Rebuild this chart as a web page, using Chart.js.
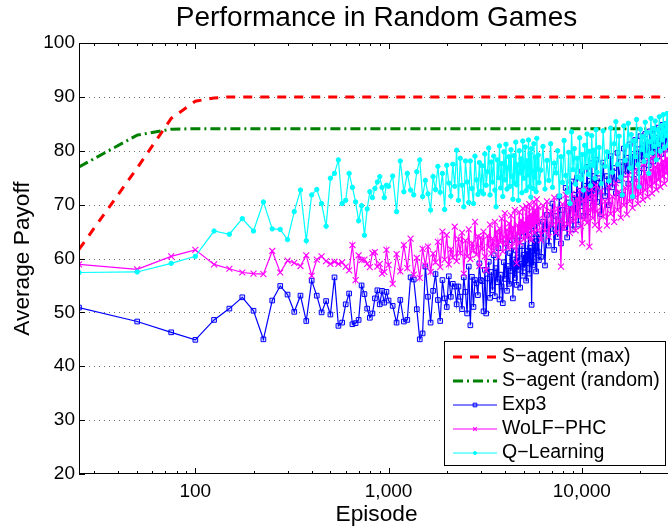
<!DOCTYPE html>
<html>
<head>
<meta charset="utf-8">
<title>Performance in Random Games</title>
<script src="https://cdn.jsdelivr.net/npm/chart.js@4.4.0/dist/chart.umd.min.js"></script>
<style>
  html, body { margin: 0; padding: 0; background: #fff; overflow: hidden; }
  #wrap { width: 668px; height: 527px; overflow: hidden; }
</style>
</head>
<body>
<div id="wrap"><canvas id="chart" width="680" height="527"></canvas></div>
<script>
// episode at which each average was recorded (shared by the three learners)
const episodes = [
  25, 50, 75, 100, 125, 150, 175, 200, 225, 250, 275, 300, 325, 350, 375, 400, 425, 450, 475, 500,
  525, 550, 575, 600, 625, 650, 675, 700, 725, 750, 775, 800, 825, 850, 875, 900, 925, 950, 975, 1000,
  1050, 1100, 1150, 1200, 1250, 1300, 1350, 1400, 1450, 1500, 1550, 1600, 1650, 1700, 1750, 1800, 1850, 1900, 1950, 2000,
  2050, 2100, 2150, 2200, 2250, 2300, 2350, 2400, 2450, 2500, 2550, 2600, 2650, 2700, 2750, 2800, 2850, 2900, 2950, 3000,
  3050, 3100, 3150, 3200, 3250, 3300, 3350, 3400, 3450, 3500, 3550, 3600, 3650, 3700, 3750, 3800, 3850, 3900, 3950, 4000,
  4050, 4100, 4150, 4200, 4250, 4300, 4350, 4400, 4450, 4500, 4550, 4600, 4650, 4700, 4750, 4800, 4850, 4900, 4950, 5000,
  5050, 5100, 5150, 5200, 5250, 5300, 5350, 5400, 5450, 5500, 5550, 5600, 5650, 5700, 5750, 5800, 5850, 5900, 5950, 6000,
  6150, 6300, 6450, 6600, 6750, 6900, 7050, 7200, 7350, 7500, 7650, 7800, 7950, 8100, 8250, 8400, 8550, 8700, 8850, 9000,
  9150, 9300, 9450, 9600, 9750, 9900, 10050, 10200, 10350, 10500, 10650, 10800, 10950, 11100, 11250, 11400, 11550, 11700, 11850, 12000,
  12300, 12600, 12900, 13200, 13500, 13800, 14100, 14400, 14700, 15000, 15300, 15600, 15900, 16200, 16500, 16800, 17100, 17400, 17700, 18000,
  18300, 18600, 18900, 19200, 19500, 19800, 20100, 20400, 20700, 21000, 21300, 21600, 21900, 22200, 22500, 22800, 23100, 23400, 23700, 24000,
  24300, 24600, 24900, 25200, 25500, 25800, 26100, 26400, 26700, 27000, 27300, 27600, 27900, 28200, 28500, 28800, 29100, 29400, 29700, 30000
];

const exp3 = [
  50.9, 48.3, 46.3, 44.9, 48.6, 50.7, 52.8, 50.3, 45.0, 52.2, 54.9, 53.3, 50.1, 53.1, 48.4, 55.9, 53.1, 50.0, 52.1, 49.6,
  56.5, 47.5, 48.1, 51.5, 53.5, 47.8, 48.0, 48.6, 55.0, 53.4, 50.7, 49.0, 49.8, 52.6, 54.1, 51.5, 54.0, 51.8, 53.8, 52.2,
  51.2, 48.1, 52.3, 48.3, 48.6, 56.5, 56.1, 50.6, 45.0, 46.1, 58.5, 52.9, 48.1, 54.0, 57.1, 52.3, 48.4, 56.0, 52.6, 51.0,
  56.7, 52.9, 55.3, 54.8, 51.5, 54.8, 52.9, 50.6, 56.5, 53.8, 49.8, 58.5, 47.6, 56.6, 51.0, 56.0, 55.4, 53.2, 59.1, 56.0,
  55.8, 50.2, 57.9, 49.8, 56.3, 59.4, 52.7, 57.5, 54.1, 60.6, 53.0, 58.2, 55.6, 61.9, 52.4, 57.0, 54.8, 51.7, 59.3, 56.2,
  62.8, 54.0, 58.6, 55.3, 61.0, 57.7, 63.4, 52.6, 59.8, 56.4, 61.5, 55.1, 60.2, 57.9, 64.1, 54.6, 59.0, 62.3, 56.8, 60.7,
  58.3, 64.8, 55.9, 61.4, 59.1, 65.3, 57.2, 62.0, 60.4, 51.4, 63.7, 58.8, 66.0, 60.9, 63.2, 57.6, 66.9, 61.3, 64.5, 59.7,
  60.3, 66.8, 58.7, 68.1, 62.4, 65.5, 70.2, 61.6, 67.9, 64.0, 71.5, 62.8, 69.0, 65.7, 73.1, 63.9, 70.4, 67.2, 74.3, 65.4,
  71.8, 68.5, 75.0, 66.3, 72.6, 69.7, 76.2, 67.9, 73.5, 70.8, 77.0, 68.6, 74.4, 71.2, 77.7, 69.8, 75.3, 72.1, 78.3, 70.5,
  74.9, 68.2, 77.8, 71.6, 75.3, 69.9, 79.0, 73.2, 76.8, 72.1, 79.6, 74.5, 77.9, 71.8, 80.4, 75.6, 78.7, 73.9, 81.2, 76.3,
  79.4, 74.8, 82.0, 77.1, 80.3, 75.9, 82.7, 78.2, 81.0, 76.7, 83.1, 78.6, 81.5, 77.3, 83.6, 79.2, 82.0, 78.0, 84.0, 79.8,
  82.4, 78.9, 84.3, 80.5, 82.9, 79.4, 84.8, 81.1, 83.3, 80.2, 85.0, 81.6, 83.7, 80.8, 85.3, 82.2, 84.1, 81.4, 85.6, 82.9
];

const wolfPhc = [
  58.9, 58.0, 60.4, 61.6, 58.9, 58.1, 57.4, 57.2, 57.1, 61.4, 57.4, 59.6, 59.2, 58.6, 60.6, 56.8, 59.8, 60.4, 59.5, 59.0,
  59.4, 59.0, 59.3, 58.5, 57.8, 62.5, 56.0, 60.6, 59.7, 59.8, 59.0, 58.4, 61.0, 61.2, 58.5, 59.0, 57.2, 57.5, 61.6, 58.8,
  55.3, 60.8, 57.6, 62.5, 58.2, 63.7, 57.0, 60.1, 56.4, 61.8, 58.7, 62.2, 57.5, 60.9, 59.3, 63.1, 58.4, 65.0, 59.8, 64.4,
  58.9, 61.7, 60.2, 65.9, 59.5, 63.6, 61.0, 64.8, 57.2, 63.3, 60.4, 65.4, 59.9, 62.8, 61.5, 66.8, 60.7, 64.1, 58.6, 63.9,
  61.8, 65.0, 60.4, 57.8, 64.2, 62.1, 66.3, 60.9, 63.7, 61.5, 66.8, 62.4, 64.9, 60.2, 65.6, 63.0, 67.4, 61.3, 64.0, 68.4,
  62.7, 65.3, 61.9, 66.5, 63.6, 68.0, 62.2, 65.8, 64.1, 69.0, 63.3, 59.1, 66.2, 64.5, 68.6, 62.9, 67.1, 64.8, 69.3, 63.6,
  66.7, 65.0, 69.7, 63.9, 67.8, 64.3, 70.1, 65.5, 68.2, 63.4, 69.4, 66.1, 70.5, 64.8, 68.9, 66.6, 71.0, 65.2, 69.6, 67.3,
  63.4, 69.8, 65.1, 70.6, 64.0, 68.7, 66.2, 71.3, 64.8, 69.2, 67.0, 58.5, 70.1, 65.6, 71.8, 66.4, 69.5, 64.7, 72.0, 66.9,
  70.3, 65.2, 71.1, 67.7, 72.6, 66.0, 62.8, 70.9, 67.3, 73.0, 66.6, 71.4, 62.2, 69.0, 72.9, 67.5, 71.7, 66.2, 73.6, 68.8,
  65.4, 72.5, 67.8, 70.6, 66.1, 73.4, 68.3, 71.5, 66.8, 74.0, 69.0, 72.4, 67.6, 74.8, 69.9, 73.1, 68.2, 75.5, 70.6, 73.8,
  69.4, 76.2, 71.3, 74.5, 70.2, 76.9, 72.0, 75.1, 70.9, 77.6, 72.7, 75.8, 71.5, 78.2, 73.4, 76.4, 72.1, 78.8, 74.0, 77.0,
  72.8, 79.3, 74.6, 77.5, 73.3, 79.9, 75.2, 78.1, 73.9, 80.4, 75.8, 78.6, 74.5, 80.8, 76.3, 79.1, 75.0, 81.2, 76.9, 79.6
];

const qLearning = [
  57.4, 57.5, 59.1, 60.4, 65.1, 64.5, 67.4, 65.1, 70.5, 65.5, 65.4, 63.5, 68.7, 72.7, 63.3, 71.8, 72.8, 70.2, 66.0, 74.9,
  75.8, 78.3, 70.2, 70.8, 75.8, 73.2, 70.5, 67.0, 69.8, 64.3, 69.2, 72.4, 71.3, 73.0, 74.2, 75.2, 73.2, 71.3, 73.6, 73.4,
  75.3, 68.7, 78.1, 72.4, 75.8, 72.7, 71.8, 76.1, 78.3, 71.5, 74.5, 72.0, 69.0, 75.2, 72.8, 77.1, 72.3, 75.8, 69.1, 77.3,
  74.0, 71.6, 77.5, 73.4, 80.1, 70.8, 78.6, 73.6, 69.6, 78.1, 74.2, 70.4, 78.1, 73.0, 70.2, 79.0, 74.6, 71.9, 77.8, 72.5,
  77.2, 72.0, 79.4, 73.6, 76.1, 80.5, 71.8, 77.9, 74.2, 79.0, 72.7, 69.6, 78.3, 75.0, 80.9, 73.1, 77.6, 71.5, 79.8, 74.6,
  81.2, 72.9, 76.8, 78.9, 73.4, 80.2, 75.3, 71.0, 79.1, 74.0, 81.6, 73.7, 77.4, 70.8, 80.0, 75.9, 78.5, 72.2, 81.8, 74.9,
  77.0, 80.7, 72.6, 78.1, 75.5, 82.0, 73.3, 79.5, 71.4, 80.4, 76.2, 73.0, 81.3, 75.1, 78.8, 72.4, 82.3, 76.6, 79.2, 74.1,
  76.4, 80.8, 72.9, 78.2, 74.5, 81.3, 73.2, 77.7, 75.9, 80.0, 71.6, 78.9, 74.1, 81.9, 75.4, 72.3, 79.7, 70.2, 83.5, 76.5,
  80.4, 73.8, 78.6, 75.1, 82.4, 74.7, 79.3, 72.7, 81.0, 76.9, 83.1, 75.6, 79.9, 73.5, 82.8, 77.3, 80.1, 74.9, 83.9, 76.0,
  80.6, 73.9, 83.7, 77.1, 79.8, 74.4, 84.2, 76.0, 81.3, 85.4, 77.5, 82.7, 75.1, 71.8, 84.6, 78.2, 80.9, 85.1, 76.8, 83.0,
  71.5, 81.8, 78.9, 85.8, 77.4, 73.3, 84.0, 80.2, 82.6, 78.0, 85.3, 79.1, 83.4, 75.8, 81.7, 86.0, 79.6, 84.1, 80.8, 85.5,
  78.3, 83.9, 81.2, 86.3, 79.9, 84.6, 82.0, 86.7, 80.5, 85.0, 82.8, 86.9, 81.0, 85.6, 83.5, 87.2, 81.9, 86.1, 84.3, 86.8
];

// the two S-agent curves are smooth, so a few points carry them
const sMaxEpisodes = [25, 50, 75, 100, 125, 150, 30000];
const sMax = [61.7, 76.8, 86.0, 89.2, 89.8, 90.0, 90.0];
const sRandomEpisodes = [25, 50, 75, 100, 30000];
const sRandom = [77.0, 82.9, 84.0, 84.1, 84.1];

const yTicks = [20, 30, 40, 50, 60, 70, 80, 90, 100];
const xMajorTicks = [100, 1000, 10000];
const xMinorTicks = [30, 40, 50, 60, 70, 80, 90, 200, 300, 400, 500, 600, 700, 800, 900,
  2000, 3000, 4000, 5000, 6000, 7000, 8000, 9000, 20000, 30000];

const FONT = '"Liberation Sans", Arial, Helvetica, sans-serif';

function toPoints(xs, ys) {
  return xs.map((x, i) => ({ x: x, y: ys[i] }));
}

const datasets = [
  {
    label: 'S\u2212agent (max)',
    data: toPoints(sMaxEpisodes, sMax),
    borderColor: '#ff0000', borderWidth: 3, borderDash: [9, 8],
    pointRadius: 0, order: 4
  },
  {
    label: 'S\u2212agent (random)',
    data: toPoints(sRandomEpisodes, sRandom),
    borderColor: '#008000', borderWidth: 3, borderDash: [10, 4, 2, 4],
    pointRadius: 0, order: 3
  },
  {
    label: 'Exp3',
    data: toPoints(episodes, exp3),
    borderColor: '#0000ff', borderWidth: 1.2,
    pointStyle: 'rect', pointRadius: 3.3, pointBorderWidth: 1,
    pointBorderColor: '#0000ff', pointBackgroundColor: 'rgba(0,0,255,0.12)',
    order: 2
  },
  {
    label: 'WoLF\u2212PHC',
    data: toPoints(episodes, wolfPhc),
    borderColor: '#ff00ff', borderWidth: 1.2,
    pointStyle: 'crossRot', pointRadius: 4.2, pointBorderWidth: 1.1,
    pointBorderColor: '#ff00ff', pointBackgroundColor: '#ff00ff',
    order: 1
  },
  {
    label: 'Q\u2212Learning',
    data: toPoints(episodes, qLearning),
    borderColor: '#00ffff', borderWidth: 1.2,
    pointStyle: 'circle', pointRadius: 2.2, pointBorderWidth: 1,
    pointBorderColor: '#00ffff', pointBackgroundColor: '#00ffff',
    order: 0
  }
];

function hline(ctx, x0, x1, y) {
  ctx.beginPath(); ctx.moveTo(x0, y); ctx.lineTo(x1, y); ctx.stroke();
}
function vline(ctx, x, y0, y1) {
  ctx.beginPath(); ctx.moveTo(x, y0); ctx.lineTo(x, y1); ctx.stroke();
}

// matlab-like axes: dotted y grid, boxed frame, inward ticks, titles, legend box
const axesDecor = {
  id: 'axesDecor',
  beforeDatasetsDraw(chart) {
    const { ctx, chartArea: a, scales: { y } } = chart;
    ctx.save();
    ctx.strokeStyle = '#707070';
    ctx.lineWidth = 1;
    ctx.setLineDash([1, 4]);
    yTicks.slice(1, -1).forEach(v => {
      hline(ctx, a.left, a.right, Math.round(y.getPixelForValue(v)) + 0.5);
    });
    ctx.restore();
  },
  afterDraw(chart) {
    const { ctx, chartArea: a, scales: { x, y } } = chart;
    ctx.save();
    ctx.strokeStyle = '#000';
    ctx.lineWidth = 1;
    ctx.strokeRect(a.left + 0.5, a.top + 0.5, a.right - a.left - 1, a.bottom - a.top - 1);

    const xTick = (v, len) => {
      const px = Math.round(x.getPixelForValue(v)) + 0.5;
      vline(ctx, px, a.bottom, a.bottom - len);
      vline(ctx, px, a.top, a.top + len);
    };
    xMajorTicks.forEach(v => xTick(v, 6));
    xMinorTicks.forEach(v => xTick(v, 3));
    yTicks.forEach(v => {
      const py = Math.round(y.getPixelForValue(v)) + 0.5;
      hline(ctx, a.left, a.left + 6, py);
      hline(ctx, a.right, a.right - 6, py);
    });

    // titles
    ctx.fillStyle = '#000';
    ctx.textAlign = 'center';
    ctx.textBaseline = 'alphabetic';
    ctx.font = '28px ' + FONT;
    ctx.fillText('Performance in Random Games', (a.left + a.right) / 2, 26);
    ctx.font = '22.7px ' + FONT;
    ctx.fillText('Episode', (a.left + a.right) / 2, 521);
    ctx.save();
    ctx.translate(29, (a.top + a.bottom) / 2);
    ctx.rotate(-Math.PI / 2);
    ctx.fillText('Average Payoff', 0, 0);
    ctx.restore();

    // legend
    const box = { left: 444.5, top: 341.5, width: 221, height: 124 };
    ctx.fillStyle = '#fff';
    ctx.fillRect(box.left, box.top, box.width, box.height);
    ctx.strokeRect(box.left, box.top, box.width, box.height);
    ctx.font = '19.5px ' + FONT;
    ctx.textAlign = 'left';
    ctx.textBaseline = 'middle';
    chart.data.datasets.forEach((ds, i) => {
      const rowY = 357 + i * 24;
      ctx.save();
      ctx.strokeStyle = ds.borderColor;
      ctx.lineWidth = ds.borderWidth;
      ctx.setLineDash(ds.borderDash || []);
      hline(ctx, 453, 497, rowY);
      ctx.restore();
      if (ds.pointRadius > 0) {
        ctx.save();
        ctx.strokeStyle = ds.pointBorderColor;
        ctx.fillStyle = ds.pointBackgroundColor;
        ctx.lineWidth = ds.pointBorderWidth;
        Chart.helpers.drawPoint(ctx, {
          pointStyle: ds.pointStyle, radius: ds.pointStyle === 'circle' ? 1.5 : 2.6,
          rotation: 0, borderWidth: ds.pointBorderWidth
        }, 475, rowY);
        ctx.restore();
      }
      ctx.fillStyle = '#000';
      ctx.fillText(ds.label, 502, rowY);
    });
    ctx.restore();
  }
};

new Chart(document.getElementById('chart'), {
  type: 'line',
  data: { datasets: datasets },
  options: {
    responsive: false,
    animation: false,
    devicePixelRatio: 1,
    layout: { padding: { top: 43, right: 6, bottom: 0, left: 0 } },
    plugins: {
      legend: { display: false },
      title: { display: false },
      tooltip: { enabled: false }
    },
    scales: {
      x: {
        type: 'logarithmic',
        min: 25,
        max: 30000,
        grid: { display: false, drawTicks: false },
        border: { display: false },
        ticks: {
          autoSkip: false,
          maxRotation: 0,
          padding: 6,
          color: '#000',
          font: { family: FONT, size: 19 },
          callback: v => xMajorTicks.includes(v) ? v.toLocaleString('en-US') : ''
        },
        afterFit: s => { s.height = 53; }
      },
      y: {
        min: 20,
        max: 100,
        grid: { display: false, drawTicks: false },
        border: { display: false },
        ticks: {
          stepSize: 10,
          padding: 4,
          color: '#000',
          font: { family: FONT, size: 19 }
        },
        afterFit: s => { s.width = 79; }
      }
    }
  },
  plugins: [axesDecor]
});
</script>
</body>
</html>
